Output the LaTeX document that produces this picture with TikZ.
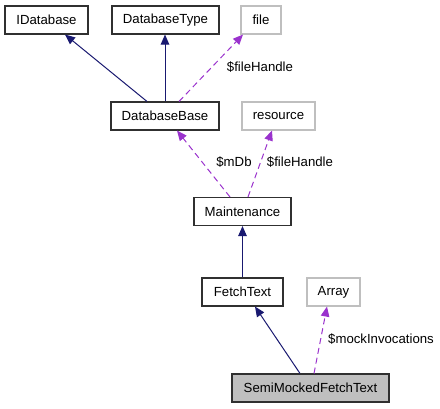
\documentclass[tikz,border=0pt]{standalone}
\usepackage{fontspec}
\setmainfont{Liberation Sans}
\usetikzlibrary{arrows.meta}
\definecolor{navy}{HTML}{191970}
\definecolor{orchid}{HTML}{9A32CD}
\definecolor{lgray}{HTML}{BFBFBF}
\definecolor{dgray}{HTML}{303030}
\begin{document}
\begin{tikzpicture}[x=1pt,y=-1pt,
  every node/.style={font=\fontsize{13.2}{15}\selectfont},
  cls/.style={draw=dgray,line width=1.1pt,fill=white,minimum height=28pt,inner sep=0pt},
  ext/.style={draw=lgray,line width=1.1pt,fill=white,minimum height=28pt,inner sep=0pt},
  inh/.style={draw=navy,line width=1pt,-{Triangle[length=10pt,width=8.5pt]}},
  use/.style={draw=orchid,line width=1pt,dash pattern=on 6pt off 4pt,-{Triangle[length=10pt,width=8.5pt]}},
  lbl/.style={inner sep=0pt}]
\useasboundingbox (0,0) rectangle (440,408);
\node[cls,minimum width=83pt] (idb) at (46.5,20) {IDatabase};
\node[cls,minimum width=107pt] (dbt) at (165.5,20) {DatabaseType};
\node[ext,minimum width=40pt] (file) at (261,20) {file};
\node[cls,minimum width=108pt] (dbb) at (165,116) {DatabaseBase};
\node[ext,minimum width=73pt] (res) at (278.5,116) {resource};
\node[cls,minimum width=97pt] (mnt) at (242.5,211.5) {Maintenance};
\node[cls,minimum width=81pt] (ft) at (242.5,292) {FetchText};
\node[ext,minimum width=53pt] (arr) at (333.5,292) {Array};
\node[cls,fill=lgray,minimum width=157pt] (smf) at (310.5,388) {SemiMockedFetchText};
\draw[inh] ([xshift=-18pt]dbb.north) -- ([xshift=18.5pt]idb.south);
\draw[inh] (dbb.north) -- (dbb.north |- dbt.south);
\draw[use] ([xshift=14pt]dbb.north) -- ([xshift=-18pt]file.south);
\draw[use] ([xshift=-12.5pt]mnt.north) -- ([xshift=12pt]dbb.south);
\draw[use] ([xshift=5.5pt]mnt.north) -- ([xshift=-6.5pt]res.south);
\draw[inh] (ft.north) -- (mnt.south);
\draw[inh] ([xshift=-10.5pt]smf.north) -- ([xshift=12.5pt]ft.south);
\draw[use] ([xshift=3.5pt]smf.north) -- ([xshift=-6.5pt]arr.south);
\node[lbl] (l1) at (260,67) {\$fileHandle};
\node[lbl] (l2) at (234,162) {\$mDb};
\node[lbl] (l3) at (300,162) {\$fileHandle};
\node[lbl] (l4) at (381,339) {\$mockInvocations};
\end{tikzpicture}
\end{document}
